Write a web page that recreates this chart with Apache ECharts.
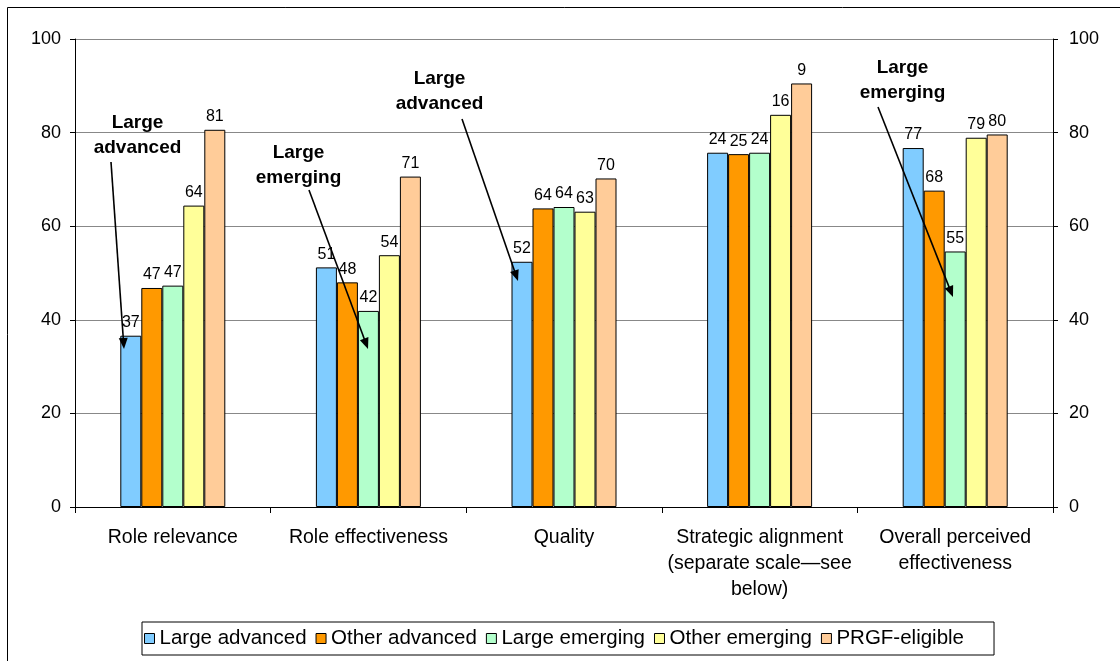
<!DOCTYPE html>
<html>
<head>
<meta charset="utf-8">
<script src="https://cdn.jsdelivr.net/npm/echarts@6/dist/echarts.min.js"></script>
<style>
  html, body { margin: 0; padding: 0; background: #fff; }
  #chart { width: 1120px; height: 661px; }
</style>
</head>
<body>
<div id="chart"></div>
<script>
// Survey results by country group (percent)
const categories = [
  'Role relevance',
  'Role effectiveness',
  'Quality',
  'Strategic alignment\n(separate scale\u2014see\nbelow)',
  'Overall perceived\neffectiveness'
];
const seriesNames = ['Large advanced', 'Other advanced', 'Large emerging', 'Other emerging', 'PRGF-eligible'];
const largeAdvanced = [36.6, 51.2, 52.4, 75.7, 76.7];
const otherAdvanced = [46.8, 48.0, 63.8, 75.4, 67.6];
const largeEmerging = [47.3, 41.9, 64.1, 75.7, 54.6];
const otherEmerging = [64.4, 53.8, 63.1, 83.8, 78.9];
const prgfEligible  = [80.6, 70.6, 70.2, 90.5, 79.6];
// Strategic alignment is labelled on its own scale
const strategicAlignmentLabels = [24, 25, 24, 16, 9];
const yTickValues = [0, 20, 40, 60, 80, 100];

const seriesValues = [largeAdvanced, otherAdvanced, largeEmerging, otherEmerging, prgfEligible];
const seriesColors = ['#80CCFF', '#FF9900', '#B3FFCC', '#FFFF99', '#FFCC99'];
const strategicIndex = 3;

const FONT = '"Liberation Sans", Arial, sans-serif';

const chart = echarts.init(document.getElementById('chart'), null, { renderer: 'canvas' });

const yAxisBase = {
  type: 'value',
  min: yTickValues[0],
  max: yTickValues[yTickValues.length - 1],
  interval: yTickValues[1] - yTickValues[0],
  axisLine: { show: true, lineStyle: { color: '#000', width: 1 } },
  axisTick: { show: true, length: 5, lineStyle: { color: '#000' } },
  axisLabel: { color: '#000', fontSize: 18, fontFamily: FONT, margin: 14 },
  splitLine: { show: false }
};

const series = seriesNames.map((name, si) => ({
  name: name,
  type: 'bar',
  yAxisIndex: 0,
  data: seriesValues[si],
  barWidth: 21,
  barGap: '0%',
  itemStyle: { color: seriesColors[si], borderColor: '#000', borderWidth: 1 },
  label: {
    show: true,
    position: 'top',
    distance: 5,
    color: '#000',
    fontSize: 16,
    fontFamily: FONT,
    formatter: p => p.dataIndex === strategicIndex
      ? String(strategicAlignmentLabels[si])
      : String(Math.round(p.value))
  },
  emphasis: { disabled: true },
  animation: false
}));

// Callout texts with arrows pointing at the large-group bars
const callouts = [
  { text: 'Large\nadvanced', cx: 137.5, cy: 135.5, from: [111, 162], to: [124, 349] },
  { text: 'Large\nemerging', cx: 298.5, cy: 165,   from: [309, 190], to: [368, 349] },
  { text: 'Large\nadvanced', cx: 439.5, cy: 91,    from: [462, 119], to: [518, 281] },
  { text: 'Large\nemerging', cx: 902.5, cy: 80.5,  from: [878, 107], to: [953, 297] }
];

function arrowGraphic(from, to) {
  const dx = to[0] - from[0], dy = to[1] - from[1];
  const len = Math.sqrt(dx * dx + dy * dy);
  const ux = dx / len, uy = dy / len;
  const headLen = 11, headHalf = 4.5;
  const bx = to[0] - ux * headLen, by = to[1] - uy * headLen;
  const px = -uy, py = ux;
  return [
    {
      type: 'line',
      shape: { x1: from[0], y1: from[1], x2: bx + ux * 2, y2: by + uy * 2 },
      style: { stroke: '#000', lineWidth: 1.6 },
      z: 100
    },
    {
      type: 'polygon',
      shape: { points: [[to[0], to[1]], [bx + px * headHalf, by + py * headHalf], [bx - px * headHalf, by - py * headHalf]] },
      style: { fill: '#000' },
      z: 100
    }
  ];
}

const graphics = [
  {
    type: 'rect',
    shape: { x: 7.5, y: 7.5, width: 1130, height: 670 },
    style: { fill: 'none', stroke: '#000', lineWidth: 1 },
    z: 0
  }
];
callouts.forEach(c => {
  graphics.push({
    type: 'text',
    x: c.cx,
    y: c.cy,
    style: {
      text: c.text,
      align: 'center',
      verticalAlign: 'middle',
      fill: '#000',
      font: 'bold 19px ' + FONT,
      lineHeight: 25
    },
    z: 101
  });
  arrowGraphic(c.from, c.to).forEach(g => graphics.push(g));
});

const option = {
  animation: false,
  backgroundColor: '#fff',
  grid: { left: 75, right: 67, top: 39, bottom: 154, containLabel: false },
  legend: {
    data: seriesNames,
    left: 142,
    top: 622,
    orient: 'horizontal',
    icon: 'rect',
    itemWidth: 10,
    itemHeight: 10,
    itemGap: 9,
    padding: [6, 30, 6, 2],
    borderColor: '#000',
    borderWidth: 1,
    itemStyle: { borderColor: '#000', borderWidth: 1 },
    textStyle: { color: '#000', fontSize: 20.5, fontFamily: FONT, padding: [0, 0, 0, 0] },
    selectedMode: false
  },
  xAxis: {
    type: 'category',
    data: categories,
    boundaryGap: true,
    axisLine: { show: true, lineStyle: { color: '#000', width: 1 } },
    axisTick: { show: true, length: 6, inside: false, alignWithLabel: false, lineStyle: { color: '#000' } },
    axisLabel: {
      color: '#000', fontSize: 19.5, fontFamily: FONT,
      margin: 18, lineHeight: 26, interval: 0, align: 'center'
    },
    splitLine: { show: false }
  },
  yAxis: [
    Object.assign({}, yAxisBase, {
      position: 'left',
      splitLine: { show: true, lineStyle: { color: '#888', width: 1 } }
    }),
    Object.assign({}, yAxisBase, {
      position: 'right',
      axisLabel: { color: '#000', fontSize: 18, fontFamily: FONT, margin: 16 }
    })
  ],
  series: series,
  graphic: graphics
};

chart.setOption(option);
</script>
</body>
</html>
